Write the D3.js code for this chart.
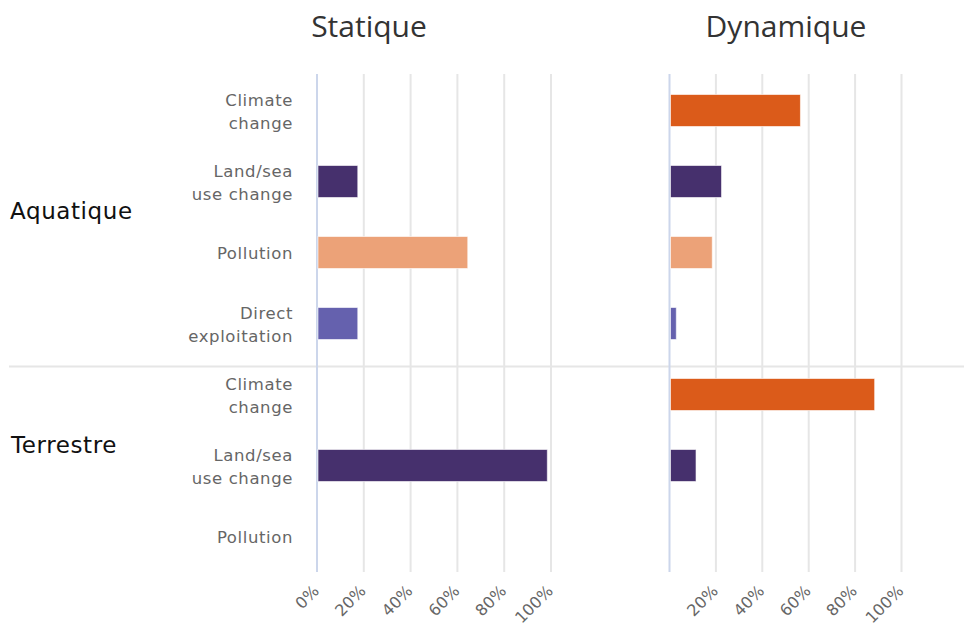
<!DOCTYPE html>
<html>
<head>
<meta charset="utf-8">
<script src="https://cdn.jsdelivr.net/npm/d3@7"></script>
<style>
  html, body { margin: 0; padding: 0; background: #fff; }
  svg { display: block; }
</style>
</head>
<body>
<svg id="chart" width="964" height="626"></svg>
<script>
// ---- Data ----
const panels = ["Statique", "Dynamique"];
const groups = ["Aquatique", "Terrestre"];
const aquaticCategories = ["Climate change", "Land/sea use change", "Pollution", "Direct exploitation"];
const terrestrialCategories = ["Climate change", "Land/sea use change", "Pollution"];
const categoryLabelLines = {
  "Climate change": ["Climate", "change"],
  "Land/sea use change": ["Land/sea", "use change"],
  "Pollution": ["Pollution"],
  "Direct exploitation": ["Direct", "exploitation"]
};
const staticAquatic = [0, 17, 64, 17];
const dynamicAquatic = [56, 22, 18, 2.5];
const staticTerrestrial = [0, 98, 0];
const dynamicTerrestrial = [88, 11, 0];
const tickValues = [0, 20, 40, 60, 80, 100];
const staticTickLabels = ["0%", "20%", "40%", "60%", "80%", "100%"];
const dynamicTickLabels = ["", "20%", "40%", "60%", "80%", "100%"];
const categoryColors = {
  "Climate change": "#db5b1a",
  "Land/sea use change": "#46306d",
  "Pollution": "#eca278",
  "Direct exploitation": "#6561ae"
};

// ---- Layout ----
const svg = d3.select("#chart");
const plotTop = 74, plotBottom = 572, groupSplit = 359;

const xStatic = d3.scaleLinear().domain([0, 100]).range([317, 551]);
const xDynamic = d3.scaleLinear().domain([0, 100]).range([669.5, 901.5]);

const yAquatic = d3.scalePoint().domain(aquaticCategories).range([75, groupSplit]).padding(0.5);
const yTerrestrial = d3.scalePoint().domain(terrestrialCategories).range([groupSplit, plotBottom]).padding(0.5);
const barH = 32;

const panelDefs = [
  { name: panels[0], x: xStatic, labels: staticTickLabels, titleX: 369,
    rows: [ { y: yAquatic, cats: aquaticCategories, vals: staticAquatic },
            { y: yTerrestrial, cats: terrestrialCategories, vals: staticTerrestrial } ] },
  { name: panels[1], x: xDynamic, labels: dynamicTickLabels, titleX: 786,
    rows: [ { y: yAquatic, cats: aquaticCategories, vals: dynamicAquatic },
            { y: yTerrestrial, cats: terrestrialCategories, vals: dynamicTerrestrial } ] }
];

// horizontal separator between groups
svg.append("line")
  .attr("x1", 9).attr("x2", 964)
  .attr("y1", 366.5).attr("y2", 366.5)
  .attr("stroke", "#e6e6e6").attr("stroke-width", 2);

panelDefs.forEach(p => {
  const g = svg.append("g");
  // gridlines
  g.selectAll("line.grid").data(tickValues.filter(d => d > 0)).join("line")
    .attr("class", "grid")
    .attr("x1", d => p.x(d)).attr("x2", d => p.x(d))
    .attr("y1", plotTop).attr("y2", plotBottom)
    .attr("stroke", "#e6e6e6").attr("stroke-width", 2);
  // zero axis line
  g.append("line")
    .attr("x1", p.x(0)).attr("x2", p.x(0))
    .attr("y1", plotTop).attr("y2", plotBottom)
    .attr("stroke", "#ccd6eb").attr("stroke-width", 2);
  // bars
  p.rows.forEach(r => {
    g.selectAll(null).data(r.cats.map((c, i) => ({ c, v: r.vals[i] })).filter(d => d.v > 0)).join("rect")
      .attr("x", p.x(0) + 1)
      .attr("y", d => r.y(d.c) - barH / 2)
      .attr("width", d => p.x(d.v) - p.x(0))
      .attr("height", barH)
      .attr("fill", d => categoryColors[d.c])
      .attr("stroke", "#ffffff").attr("stroke-opacity", 0.6).attr("stroke-width", 1);
  });
  // tick labels
  g.selectAll("text.tick").data(tickValues).join("text")
    .attr("class", "tick")
    .attr("transform", d => `translate(${p.x(d) + 3},${592}) rotate(-45)`)
    .attr("text-anchor", "end")
    .attr("font-family", "DejaVu Sans, sans-serif")
    .attr("font-size", 16)
    .attr("fill", "#666")
    .text((d, i) => p.labels[i]);
  // title
  svg.append("text")
    .attr("x", p.titleX).attr("y", 37)
    .attr("text-anchor", "middle")
    .attr("font-family", "Open Sans, sans-serif")
    .attr("font-size", 30)
    .attr("fill", "#333")
    .text(p.name);
});

// category labels
function drawCatLabels(yScale, cats) {
  cats.forEach(c => {
    const lines = categoryLabelLines[c];
    const cy = yScale(c);
    const t = svg.append("text")
      .attr("text-anchor", "end")
      .attr("font-family", "DejaVu Sans, sans-serif")
      .attr("font-size", 16.5)
      .attr("letter-spacing", 0.6)
      .attr("fill", "#666");
    if (lines.length === 1) {
      t.append("tspan").attr("x", 293).attr("y", cy + 6).text(lines[0]);
    } else {
      t.append("tspan").attr("x", 293).attr("y", cy - 4.5).text(lines[0]);
      t.append("tspan").attr("x", 293).attr("y", cy + 18.5).text(lines[1]);
    }
  });
}
drawCatLabels(yAquatic, aquaticCategories);
drawCatLabels(yTerrestrial, terrestrialCategories);

// group labels
const groupY = [219, 453];
const groupX = [10, 11];
groups.forEach((gname, i) => {
  svg.append("text")
    .attr("x", groupX[i]).attr("y", groupY[i])
    .attr("font-family", "DejaVu Sans, sans-serif")
    .attr("font-size", 23)
    .attr("letter-spacing", 0.6)
    .attr("fill", "#111")
    .text(gname);
});
</script>
</body>
</html>
